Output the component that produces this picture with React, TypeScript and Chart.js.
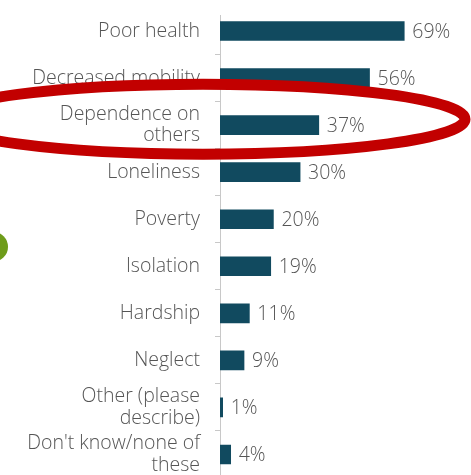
import React, { useEffect, useRef } from "react";
import { Chart, registerables } from "chart.js";

Chart.register(...registerables);

const categories: (string | string[])[] = [
  "Poor health",
  "Decreased mobility",
  ["Dependence on", "others"],
  "Loneliness",
  "Poverty",
  "Isolation",
  "Hardship",
  "Neglect",
  ["Other (please", "describe)"],
  ["Don't know/none of", "these"],
];

const values: number[] = [69, 56, 37, 30, 20, 19, 11, 9, 1, 4];

const valueLabels: string[] = values.map((v) => `${v}%`);

const FONT = '"Open Sans", "Noto Sans", sans-serif';
const FONT_SIZE = 19.5;
const BAR_COLOR = "#114a5f";
const TEXT_COLOR = "#555555";

const valueLabelPlugin = {
  id: "valueLabels",
  afterDatasetsDraw(chart: any) {
    const { ctx } = chart;
    const meta = chart.getDatasetMeta(0);
    ctx.save();
    ctx.font = `300 ${FONT_SIZE}px ${FONT}`;
    ctx.fillStyle = TEXT_COLOR;
    ctx.textBaseline = "middle";
    ctx.textAlign = "left";
    meta.data.forEach((bar: any, i: number) => {
      ctx.fillText(valueLabels[i], bar.x + 8, bar.y + 1);
    });
    ctx.restore();
  },
};

const axisLinePlugin = {
  id: "axisLine",
  beforeDatasetsDraw(chart: any) {
    const { ctx, chartArea } = chart;
    ctx.save();
    ctx.strokeStyle = "#c8c8c8";
    ctx.lineWidth = 1;
    ctx.beginPath();
    ctx.moveTo(chartArea.left + 0.5, 15);
    ctx.lineTo(chartArea.left + 0.5, chartArea.bottom);
    ctx.stroke();
    ctx.restore();
  },
};

const annotationPlugin = {
  id: "annotations",
  afterDraw(chart: any) {
    const { ctx } = chart;
    const y = chart.scales.y;
    const cy = y.getPixelForValue(2) - 6;
    ctx.save();
    // red highlight ellipse
    ctx.strokeStyle = "#c20000";
    ctx.lineWidth = 11;
    ctx.beginPath();
    ctx.ellipse(203, cy, 262, 35, 0, 0, Math.PI * 2);
    ctx.stroke();
    // green circle peeking from left edge
    const gy = (y.getPixelForValue(4) + y.getPixelForValue(5)) / 2 + 4;
    ctx.fillStyle = "#6e9c1a";
    ctx.beginPath();
    ctx.arc(-7, gy, 15, 0, Math.PI * 2);
    ctx.fill();
    ctx.restore();
  },
};

export default function App() {
  const canvasRef = useRef<HTMLCanvasElement | null>(null);

  useEffect(() => {
    let chart: Chart | null = null;
    let cancelled = false;
    const build = () => {
      if (cancelled || !canvasRef.current) return;
      chart = new Chart(canvasRef.current, {
        type: "bar",
        data: {
          labels: categories,
          datasets: [
            {
              data: values,
              backgroundColor: BAR_COLOR,
              borderWidth: 0,
              barThickness: 19,
            },
          ],
        },
        options: {
          indexAxis: "y",
          animation: false,
          responsive: true,
          maintainAspectRatio: false,
          layout: { padding: { top: 7.5, right: 0, bottom: 0, left: 0 } },
          plugins: {
            legend: { display: false },
            tooltip: { enabled: false },
            title: { display: false },
          },
          scales: {
            x: {
              display: false,
              min: 0,
              max: 94,
            },
            y: {
              afterFit(scale: any) {
                scale.width = 220;
                scale.paddingTop = 0;
                scale.paddingBottom = 0;
              },
              border: { display: false },
              grid: {
                display: true,
                drawOnChartArea: false,
                drawTicks: true,
                tickLength: 5,
                offset: true,
                color: (c: any) => (c.index === 0 ? "rgba(0,0,0,0)" : "#c8c8c8"),
              },
              ticks: {
                padding: 15,
                color: TEXT_COLOR,
                font: { family: FONT, size: FONT_SIZE, weight: "300" as any, lineHeight: 1.1 },
              },
            },
          },
        },
        plugins: [axisLinePlugin, valueLabelPlugin, annotationPlugin],
      });
    };
    const fonts: any = (document as any).fonts;
    if (fonts && fonts.load) {
      Promise.all([
        fonts.load(`300 ${FONT_SIZE}px "Open Sans"`),
        fonts.load(`${FONT_SIZE}px "Open Sans"`),
      ]).then(build, build);
    } else {
      build();
    }
    return () => {
      cancelled = true;
      if (chart) chart.destroy();
    };
  }, []);

  return (
    <div
      style={{
        position: "absolute",
        left: 0,
        top: 0,
        width: 471,
        height: 478,
        background: "#ffffff",
      }}
    >
      <canvas ref={canvasRef} />
    </div>
  );
}
